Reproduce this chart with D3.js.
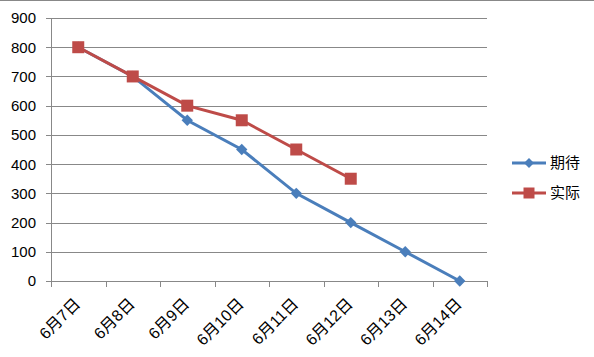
<!DOCTYPE html>
<html>
<head>
<meta charset="utf-8">
<script src="https://cdn.jsdelivr.net/npm/d3@7"></script>
<style>
  body { margin: 0; background: #fff; }
  svg { display: block; font-family: "Liberation Sans", "Noto Sans CJK SC", sans-serif; }
</style>
</head>
<body>
<svg id="chart" width="594" height="357"></svg>
<script>
const dates = ['6月7日', '6月8日', '6月9日', '6月10日', '6月11日', '6月12日', '6月13日', '6月14日'];
const expected = [800, 700, 550, 450, 300, 200, 100, 0];
const actual = [800, 700, 600, 550, 450, 350];
const yTicks = [0, 100, 200, 300, 400, 500, 600, 700, 800, 900];

const series = [
  { name: '期待', values: expected, color: '#4a7ebb', shape: 'diamond' },
  { name: '实际', values: actual, color: '#be4b48', shape: 'square' }
];

const svg = d3.select('#chart');
const plot = { left: 51, right: 487, top: 18, bottom: 281 };

// outer frame line
svg.append('line')
  .attr('x1', 0).attr('x2', 594).attr('y1', 0.5).attr('y2', 0.5)
  .attr('stroke', '#888');

const x = d3.scaleBand().domain(dates).range([plot.left, plot.right]);
const y = d3.scaleLinear().domain([0, 900]).range([plot.bottom, plot.top]);

/** gridlines */
svg.append('g')
  .selectAll('line')
  .data(yTicks)
  .join('line')
  .attr('x1', plot.left).attr('x2', plot.right)
  .attr('y1', d => Math.round(y(d)) + 0.5)
  .attr('y2', d => Math.round(y(d)) + 0.5)
  .attr('stroke', '#888')
  .attr('stroke-width', 1);

/** y axis */
svg.append('line')
  .attr('x1', plot.left + 0.5).attr('x2', plot.left + 0.5)
  .attr('y1', plot.top).attr('y2', plot.bottom + 0.5)
  .attr('stroke', '#888');

svg.append('g')
  .selectAll('line')
  .data(yTicks)
  .join('line')
  .attr('x1', plot.left - 5).attr('x2', plot.left)
  .attr('y1', d => Math.round(y(d)) + 0.5)
  .attr('y2', d => Math.round(y(d)) + 0.5)
  .attr('stroke', '#888');

svg.append('g')
  .selectAll('text')
  .data(yTicks)
  .join('text')
  .attr('x', 36)
  .attr('y', d => y(d))
  .attr('dy', '0.36em')
  .attr('text-anchor', 'end')
  .attr('font-size', 15)
  .attr('fill', '#000')
  .text(d => d);

/** x axis ticks */
const xTickPos = dates.map(d => x(d)).concat([plot.right]);
svg.append('g')
  .selectAll('line')
  .data(xTickPos)
  .join('line')
  .attr('x1', d => Math.round(d) + 0.5).attr('x2', d => Math.round(d) + 0.5)
  .attr('y1', plot.bottom).attr('y2', plot.bottom + 6)
  .attr('stroke', '#888');

svg.append('g')
  .selectAll('text')
  .data(dates)
  .join('text')
  .attr('transform', d => `translate(${x(d) + x.bandwidth() / 2 - 1},${plot.bottom + 20}) rotate(-45)`)
  .attr('text-anchor', 'end')
  .attr('dy', '0.35em')
  .attr('font-size', 16)
  .attr('fill', '#000')
  .text(d => d);

/** lines and markers */
const cx = (d, i) => x(dates[i]) + x.bandwidth() / 2;
const line = d3.line().x((d, i) => cx(d, i)).y(d => y(d));

series.forEach(s => {
  const g = svg.append('g');
  g.append('path')
    .datum(s.values)
    .attr('d', line)
    .attr('fill', 'none')
    .attr('stroke', s.color)
    .attr('stroke-width', 3);
  g.selectAll('path.m')
    .data(s.values)
    .join('path')
    .attr('class', 'm')
    .attr('transform', (d, i) => `translate(${cx(d, i)},${y(d)})` + (s.shape === 'diamond' ? ' rotate(45)' : ''))
    .attr('d', s.shape === 'diamond'
      ? d3.symbol(d3.symbolSquare, 64)()
      : d3.symbol(d3.symbolSquare, 144)())
    .attr('fill', s.color);
});

/** legend */
const legend = svg.append('g');
series.forEach((s, i) => {
  const ly = 163 + i * 30;
  legend.append('line')
    .attr('x1', 512).attr('x2', 546)
    .attr('y1', ly).attr('y2', ly)
    .attr('stroke', s.color).attr('stroke-width', 3);
  legend.append('path')
    .attr('transform', `translate(529,${ly})` + (s.shape === 'diamond' ? ' rotate(45)' : ''))
    .attr('d', s.shape === 'diamond'
      ? d3.symbol(d3.symbolSquare, 49)()
      : d3.symbol(d3.symbolSquare, 121)())
    .attr('fill', s.color);
  legend.append('text')
    .attr('x', 550).attr('y', ly)
    .attr('dy', '0.36em')
    .attr('font-size', 15)
    .attr('fill', '#000')
    .text(s.name);
});
</script>
</body>
</html>
